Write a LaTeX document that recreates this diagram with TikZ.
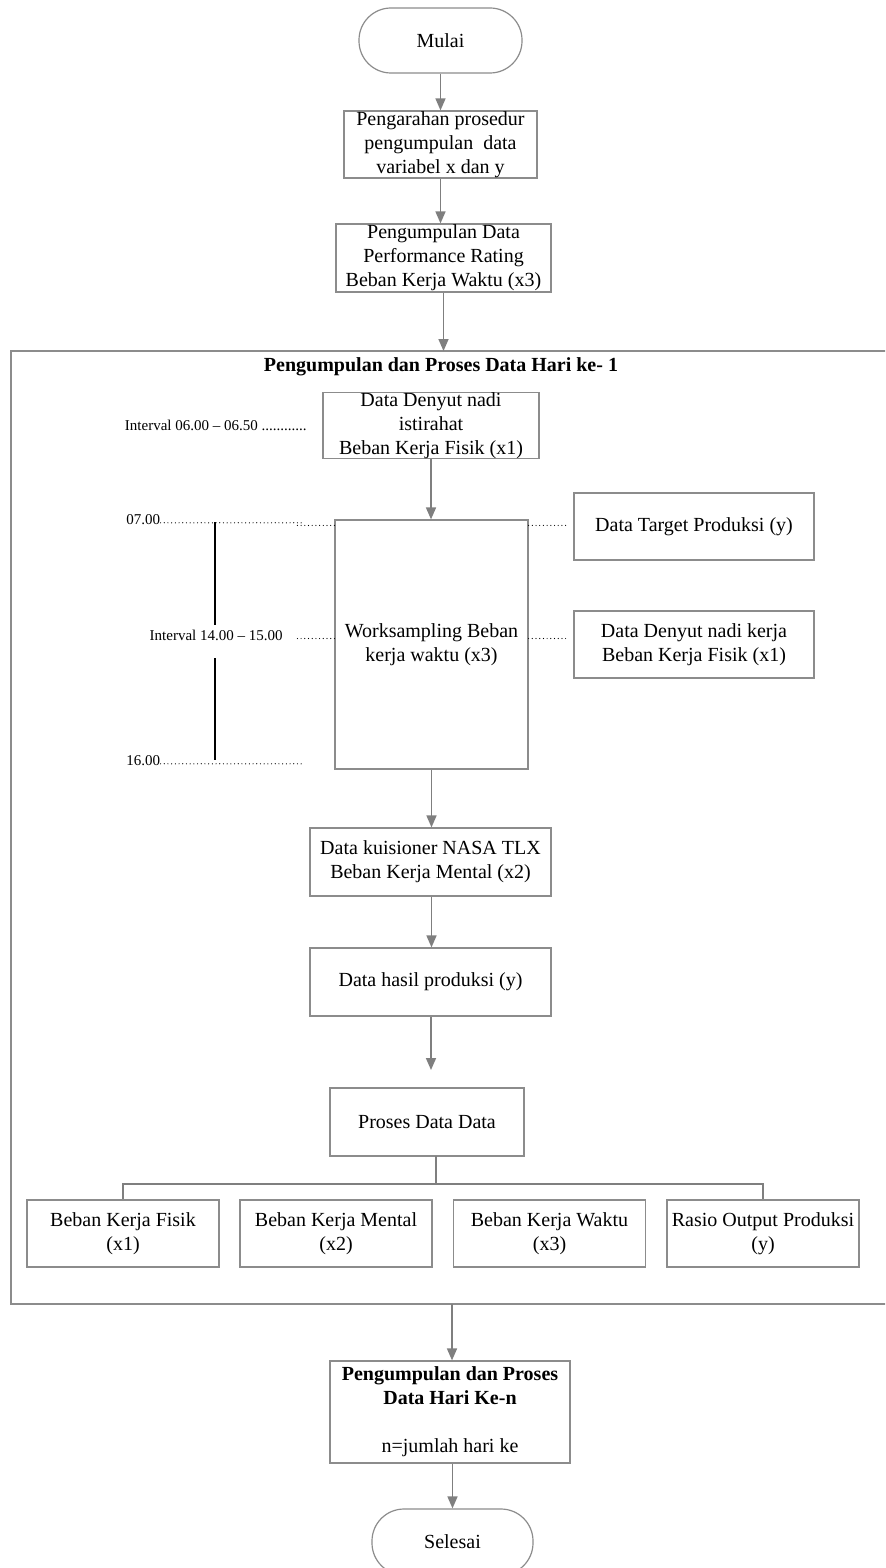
\documentclass[tikz,border=0pt]{standalone}
\usepackage{fontspec}
\setmainfont{Liberation Serif}
\usetikzlibrary{arrows.meta}
\definecolor{bgray}{HTML}{8C8C8C}
\definecolor{agray}{HTML}{7F7F7F}
\begin{document}
\begin{tikzpicture}[x=0.5pt,y=-0.5pt,
  box/.style={draw=bgray,line width=0.6pt,align=center,inner sep=0pt,font=\fontsize{10}{12}\selectfont},
  term/.style={box,rounded corners=16pt},
  arr/.style={draw=agray,line width=0.8pt,-{Triangle[length=6pt,width=5pt]}},
  tree/.style={draw=agray,line width=0.6pt},
  frame/.style={draw=bgray,line width=0.6pt},
  dotln/.style={draw=black,line width=0.6pt,line cap=round,dash pattern=on 0pt off 1.85pt},
  tl/.style={draw=black,line width=0.75pt},
  small/.style={inner sep=0pt,font=\fontsize{7.5}{9}\selectfont}]
\useasboundingbox (0,0) rectangle (885,1568);
\clip (0,0) rectangle (885,1568);
% top part
\node[term,minimum width=81.5pt,minimum height=32.5pt] (mulai) at (440.5,40.5) {Mulai};
\node[box,minimum width=96.5pt,minimum height=33.5pt] (b1) at (440.5,144.5) {Pengarahan prosedur\\pengumpulan\ \ data\\variabel x dan y};
\node[box,minimum width=107.5pt,minimum height=34pt] (b2) at (443.5,258) {Pengumpulan Data\\Performance Rating\\Beban Kerja Waktu (x3)};
\draw[arr] (mulai) -- (b1);
\draw[arr] (b1.south) -- (b1.south |- b2.north);
% frame
\draw[frame] (890,351) -- (11,351) -- (11,1304) -- (890,1304);
\coordinate (ftop) at (443.5,351);
\coordinate (fbot) at (452,1304);
\draw[arr] (b2.south) -- (ftop);
\node[font=\fontsize{10}{12}\selectfont\bfseries,inner sep=0pt] (title) at (441,367) {Pengumpulan dan Proses Data Hari ke- 1};
% day 1
\node[box,minimum width=108pt,minimum height=32.5pt] (b3) at (431,425.5) {Data Denyut nadi\\istirahat\\Beban Kerja Fisik (x1)};
\node[small,anchor=base east] (int1) at (307,430) {Interval 06.00 -- 06.50 ............};
\node[box,minimum width=96.5pt,minimum height=124.5pt] (ws) at (431.5,644.5) {Worksampling Beban\\kerja waktu (x3)};
\draw[arr] (b3.south) -- (b3.south |- ws.north);
\node[box,minimum width=120pt,minimum height=33.5pt] (tgt) at (694,526.5) {Data Target Produksi (y)};
\node[box,minimum width=120pt,minimum height=33.5pt] (dnk) at (694,644.5) {Data Denyut nadi kerja\\Beban Kerja Fisik (x1)};
\draw[dotln] ([yshift=-3pt]ws.north east) -- ++(40,0);
\draw[dotln] ([yshift=3pt]ws.east) -- ++(40,0);
% time line
\node[small,anchor=base west] (t07) at (126,524) {07.00};
\draw[dotln] ([yshift=0.6pt]t07.base east) -- ++(143,0);
\draw[dotln] ([yshift=-3pt]ws.north west) -- ++(-40,0);
\node[small,anchor=base east] (t14) at (283,640) {Interval 14.00 -- 15.00};
\draw[dotln] ([yshift=3pt]ws.west) -- ++(-38,0);
\node[small,anchor=base west] (t16) at (126,765) {16.00};
\draw[dotln] ([yshift=0.6pt]t16.base east) -- ++(143,0);
\coordinate (v1) at (215,522);
\coordinate (v2) at (215,625);
\coordinate (v3) at (215,658);
\coordinate (v4) at (215,760);
\draw[tl] (v1) -- (v2);
\draw[tl] (v3) -- (v4);
% lower chain
\node[box,minimum width=120.5pt,minimum height=34pt] (nasa) at (430.5,862) {Data kuisioner NASA TLX\\Beban Kerja Mental (x2)};
\node[box,minimum width=120.5pt,minimum height=34pt] (hasil) at (430.5,982) {Data hasil produksi (y)};
\node[box,minimum width=97pt,minimum height=34pt] (proses) at (427,1122) {Proses Data Data};
\draw[arr] (ws.south) -- (ws.south |- nasa.north);
\draw[arr] (nasa.south -| ws.south) -- (hasil.north -| ws.south);
\coordinate (pin) at (431,1070);
\draw[arr] (hasil.south -| pin) -- (pin);
% outputs
\node[box,minimum width=96pt,minimum height=33.5pt] (o1) at (123,1233.5) {Beban Kerja Fisik\\(x1)};
\node[box,minimum width=96pt,minimum height=33.5pt] (o2) at (336,1233.5) {Beban Kerja Mental\\(x2)};
\node[box,minimum width=96pt,minimum height=33.5pt] (o3) at (549.5,1233.5) {Beban Kerja Waktu\\(x3)};
\node[box,minimum width=96pt,minimum height=33.5pt] (o4) at (763,1233.5) {Rasio Output Produksi\\(y)};
\coordinate (pout) at (436,1156);
\coordinate (hub) at (436,1184);
\draw[tree] (pout) -- (hub);
\draw[tree] (hub) -| (o1.north);
\draw[tree] (hub) -| (o4.north);
% day n
\node[box,minimum width=120pt,minimum height=51pt] (kn) at (450,1412) {\textbf{Pengumpulan dan Proses}\\\textbf{Data Hari Ke-n}\\[12pt]n=jumlah hari ke};
\draw[arr] (fbot) -- (fbot |- kn.north);
\node[term,minimum width=80.5pt,minimum height=33pt] (selesai) at (452.5,1542) {Selesai};
\draw[arr] (kn.south -| selesai.north) -- (selesai.north);
\end{tikzpicture}
\end{document}
